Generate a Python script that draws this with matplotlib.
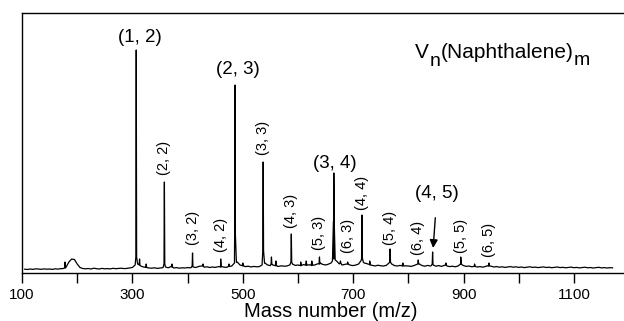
import numpy as np
import matplotlib
matplotlib.use('Agg')
import matplotlib.pyplot as plt
from matplotlib.transforms import IdentityTransform

plt.rcParams['font.family'] = ['Liberation Sans', 'DejaVu Sans']

# baseline of the spectrum, one value every 5 mass units from 105 to 1170
base_mass = list(range(105, 1175, 5))
base_vals = [
    3.8, 3.5, 4.0, 3.6, 4.2, 3.9, 3.7, 4.1, 3.8, 4.0,      # 105-150
    3.6, 4.2, 3.9, 4.3, 4.5, 6.0, 11.0, 14.0, 13.5, 9.0,   # 155-200
    5.5, 4.5, 4.2, 4.5, 4.0, 4.8, 4.3, 4.0, 4.6, 4.2,      # 205-250
    4.4, 4.1, 4.7, 4.3, 4.5, 4.8, 4.4, 4.6, 5.0, 5.5,      # 255-300
    8.0, 9.0, 7.0, 6.0, 5.5, 5.0, 4.8, 5.2, 4.6, 5.0,      # 305-350
    5.3, 6.0, 5.2, 6.5, 5.0, 5.4, 4.8, 5.2, 5.0, 5.4,      # 355-400
    5.2, 6.0, 5.5, 6.5, 7.0, 5.8, 6.2, 5.5, 6.0, 5.6,      # 405-450
    6.2, 6.8, 6.0, 5.6, 6.4, 7.0, 10.0, 11.0, 8.0, 7.0,    # 455-500
    6.4, 6.8, 6.0, 6.6, 6.2, 6.4, 8.0, 10.0, 8.0, 7.4,     # 505-550
    8.0, 7.0, 6.6, 7.2, 6.8, 7.0, 8.0, 9.0, 7.6, 8.0,      # 555-600
    7.2, 8.4, 7.6, 8.2, 7.4, 8.0, 9.0, 10.0, 8.6, 8.0,     # 605-650
    8.8, 10.0, 14.0, 12.0, 9.0, 8.0, 8.6, 9.2, 7.8, 7.4,   # 655-700
    8.0, 9.0, 13.0, 10.0, 9.4, 8.0, 7.6, 7.0, 7.8, 7.2,    # 705-750
    7.0, 7.6, 10.0, 9.0, 7.4, 7.0, 7.6, 6.8, 7.2, 7.0,     # 755-800
    6.6, 7.4, 8.6, 9.0, 7.4, 6.8, 7.6, 7.0, 8.0, 6.8,      # 805-850
    7.4, 6.6, 7.6, 7.0, 6.4, 6.8, 6.2, 7.0, 9.0, 7.4,      # 855-900
    6.6, 7.0, 6.2, 6.6, 6.0, 6.4, 5.8, 6.6, 7.4, 6.8,      # 905-950
    6.0, 6.4, 5.8, 6.2, 5.6, 6.0, 6.4, 5.8, 6.2, 5.6,      # 955-1000
    6.0, 5.4, 5.8, 6.2, 5.6, 5.9, 5.4, 5.8, 6.1, 5.5,      # 1005-1050
    5.8, 5.3, 5.7, 6.0, 5.4, 5.7, 5.2, 5.6, 5.9, 5.3,      # 1055-1100
    5.6, 5.1, 5.5, 5.8, 5.2, 5.5, 5.0, 5.4, 5.7, 5.1,      # 1105-1150
    5.4, 5.0, 5.3, 5.2,                                    # 1155-1170
]

# sharp peaks: mass, top, height of the broadened foot
peak_mass = [178, 307, 313, 325, 358, 372, 409, 428, 460, 475, 486, 500,
             537, 552, 560, 588, 605, 615, 625, 639, 665, 677, 690, 716,
             730, 767, 790, 818, 844, 868, 895, 920, 946]
peak_top = [11, 223, 14, 9, 91, 9, 20, 9, 14, 9, 188, 10,
            111, 16, 12, 39, 11, 12, 12, 16, 100, 12, 11, 58,
            12, 24, 10, 13, 21, 10, 16, 9, 10]
peak_foot = [5, 16, 8, 6, 9, 6, 7, 7, 6, 7, 38, 8,
             22, 9, 8, 11, 8, 9, 9, 9, 52, 10, 9, 15,
             9, 11, 8, 9, 9, 8, 9, 7, 7]

# cluster labels (n, m)
tall_labels = ['(1, 2)', '(2, 3)', '(3, 4)', '(4, 5)']
tall_x = [314, 491, 667, 852]
tall_y = [235, 203, 110, 79]
side_labels = ['(2, 2)', '(3, 2)', '(4, 2)', '(3, 3)', '(4, 3)', '(5, 3)',
               '(6, 3)', '(4, 4)', '(5, 4)', '(6, 4)', '(5, 5)', '(6, 5)']
side_x = [358, 409, 460, 537, 588, 639, 690, 716, 767, 818, 895, 946]
side_y = [98, 28, 21, 118, 45, 23, 20, 63, 28, 18, 20, 16]

# title pieces: text, size, drop below baseline (px)
title_parts = [('V', 15, 0), ('n', 14, 8), ('(Naphthalene)', 15, 0), ('m', 14, 7)]

# build the trace
xs = list(base_mass)
ys = list(base_vals)
for m, t, f in zip(peak_mass, peak_top, peak_foot):
    b1 = np.interp(m - 2.5, base_mass, base_vals)
    b2 = np.interp(m + 2.5, base_mass, base_vals)
    xs += [m - 2.5, m - 0.7, m, m + 0.7, m + 2.5]
    ys += [b1, f, t, f, b2]
order = np.argsort(xs, kind='stable')
xs = np.array(xs)[order]
ys = np.array(ys)[order]

fig = plt.figure(figsize=(6.24, 3.21), dpi=100)
ax = fig.add_axes([22 / 624, (321 - 273) / 321, 601 / 624, 260 / 321])
ax.plot(xs, ys, color='black', lw=0.9)

ax.set_xlim(100, 1189)
ax.set_ylim(0, 260)
ax.spines['right'].set_visible(False)
for s in ['left', 'top', 'bottom']:
    ax.spines[s].set_linewidth(1.0)
ax.set_yticks([])
ax.set_xticks([100, 300, 500, 700, 900, 1100])
ax.set_xticks([200, 400, 600, 800, 1000], minor=True)
ax.tick_params(axis='x', which='both', direction='out', length=7, width=1.0)
ax.tick_params(axis='x', which='major', labelsize=11, pad=4)

ax.set_xlabel('Mass number (m/z)', fontsize=14.5)
ax.xaxis.set_label_coords(0.514, -0.11)

for lab, x, y in zip(tall_labels[:3], tall_x, tall_y):
    ax.text(x, y, lab, fontsize=13.5, ha='center', va='center')
ax.annotate(tall_labels[3], xy=(845, 25), xytext=(tall_x[3], tall_y[3]),
            fontsize=13.5, ha='center', va='center',
            arrowprops=dict(arrowstyle='-|>', color='black', lw=1.0,
                            mutation_scale=12, shrinkA=9, shrinkB=0))
for lab, x, y in zip(side_labels, side_x, side_y):
    ax.text(x, y, lab, fontsize=10.5, rotation=90, ha='center', va='bottom')

# title written piece by piece so the subscripts stay large
renderer = fig.canvas.get_renderer()
px, base_y = 415, 321 - 58
for txt, size, drop in title_parts:
    t = fig.text(px, base_y - drop, txt, fontsize=size, ha='left',
                 va='baseline', transform=IdentityTransform())
    px = t.get_window_extent(renderer).x1 + 0.5

fig.savefig('out.png', dpi=100)
